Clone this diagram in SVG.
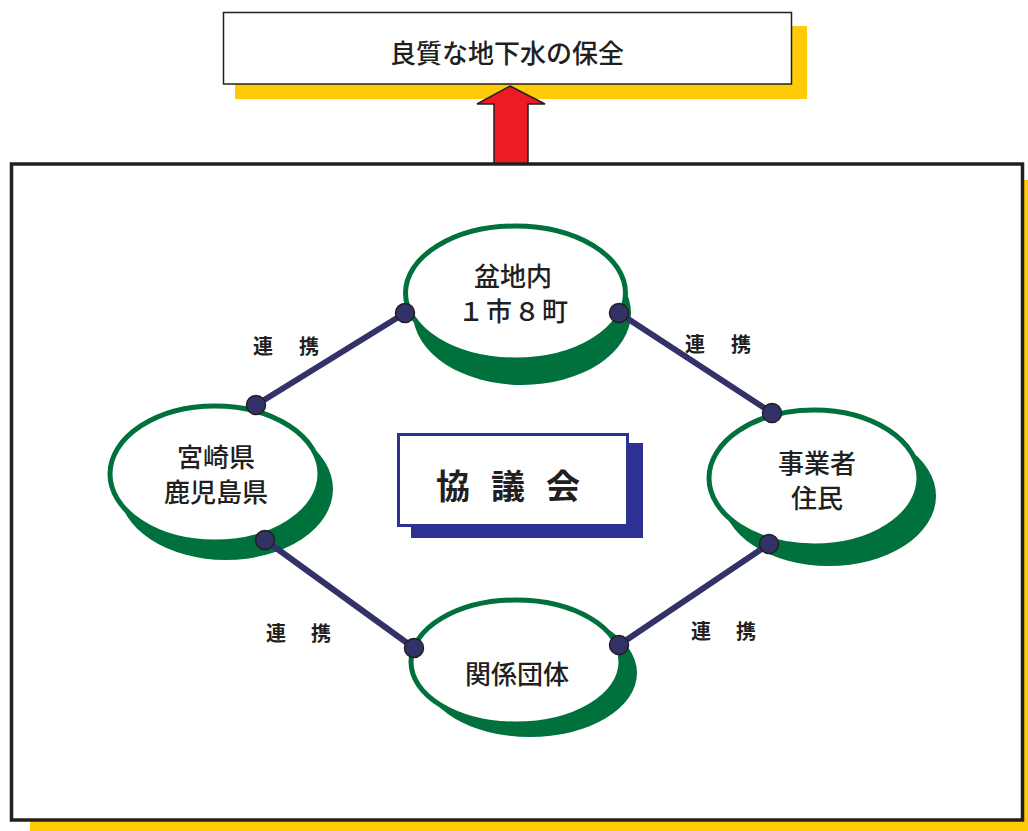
<svg xmlns="http://www.w3.org/2000/svg" width="1028" height="831" viewBox="0 0 1028 831">
<style>
.jp{font-family:"Noto Sans CJK JP","Noto Sans CJK SC",sans-serif;fill:#231f20}
.lbl{font-size:26px;font-weight:500;text-anchor:middle;dominant-baseline:central}
.rk{font-size:20px;font-weight:bold;text-anchor:middle;dominant-baseline:central}
.sh{fill:#00703c}
.el{fill:#ffffff;stroke:#00703c;stroke-width:5}
.con{stroke:#323268;stroke-width:6;stroke-linecap:round}
.dot{fill:#323268;stroke:#231f20;stroke-width:1.5}
</style>
<rect width="1028" height="831" fill="#ffffff"/>
<g id="goal">
<rect x="235" y="26" width="572" height="73" fill="#ffcb08"/>
<rect x="223.5" y="12.5" width="568" height="71.5" fill="#ffffff" stroke="#231f20" stroke-width="1.5"/>
<text class="jp lbl" x="507" y="51" font-size="27">良質な地下水の保全</text>
</g>
<g id="frame">
<rect x="30" y="180" width="998" height="651" fill="#ffcb08"/>
<rect x="11.5" y="164" width="1011" height="656" fill="#ffffff" stroke="#231f20" stroke-width="3.5"/>
</g>
<g id="arrow">
<polygon points="510,86 545,104 528,104 528,163 494,163 494,104 477,104" fill="#ed1c24" stroke="#231f20" stroke-width="1.5"/>
</g>
<g id="node-bonchi">
<ellipse class="sh" cx="522" cy="313" rx="109" ry="72"/>
<ellipse class="el" cx="515.5" cy="293" rx="110" ry="67"/>
<text class="jp lbl"><tspan x="513" y="274">盆地内</tspan><tspan x="514" y="309" letter-spacing="2">１市８町</tspan></text>
</g>
<g id="node-ken">
<ellipse class="sh" cx="226" cy="489" rx="107" ry="71"/>
<ellipse class="el" cx="215" cy="474" rx="105" ry="68"/>
<text class="jp lbl"><tspan x="216" y="455">宮崎県</tspan><tspan x="216" y="490">鹿児島県</tspan></text>
</g>
<g id="node-jigyosha">
<ellipse class="sh" cx="829" cy="496" rx="107" ry="70"/>
<ellipse class="el" cx="814" cy="478" rx="105" ry="68"/>
<text class="jp lbl"><tspan x="817" y="461">事業者</tspan><tspan x="817" y="496">住民</tspan></text>
</g>
<g id="node-kankei">
<ellipse class="sh" cx="530" cy="673" rx="107" ry="64"/>
<ellipse class="el" cx="516" cy="662" rx="105" ry="62"/>
<text class="jp lbl" x="517" y="672">関係団体</text>
</g>
<g id="node-kyogikai">
<rect x="411" y="443" width="232" height="95" fill="#2e3192"/>
<rect x="398.5" y="434.5" width="229" height="91" fill="#ffffff" stroke="#2e3192" stroke-width="3"/>
<text class="jp" x="453 508 563" y="484" font-size="34" font-weight="bold" text-anchor="middle" dominant-baseline="central">協議会</text>
</g>
<g id="connectors">
<line class="con" x1="256" y1="405" x2="405" y2="313"/>
<line class="con" x1="619" y1="313" x2="772" y2="413"/>
<line class="con" x1="265" y1="540" x2="414" y2="648"/>
<line class="con" x1="769" y1="544" x2="619" y2="645"/>
<circle class="dot" cx="256" cy="405" r="9.5"/>
<circle class="dot" cx="405" cy="313" r="9.5"/>
<circle class="dot" cx="619" cy="313" r="9.5"/>
<circle class="dot" cx="772" cy="413" r="9.5"/>
<circle class="dot" cx="265" cy="540" r="9.5"/>
<circle class="dot" cx="414" cy="648" r="9.5"/>
<circle class="dot" cx="769" cy="544" r="9.5"/>
<circle class="dot" cx="619" cy="645" r="9.5"/>
<text class="jp rk" x="263 309" y="345">連携</text>
<text class="jp rk" x="695 741" y="343">連携</text>
<text class="jp rk" x="276 321" y="632">連携</text>
<text class="jp rk" x="701 746" y="630">連携</text>
</g>
</svg>
